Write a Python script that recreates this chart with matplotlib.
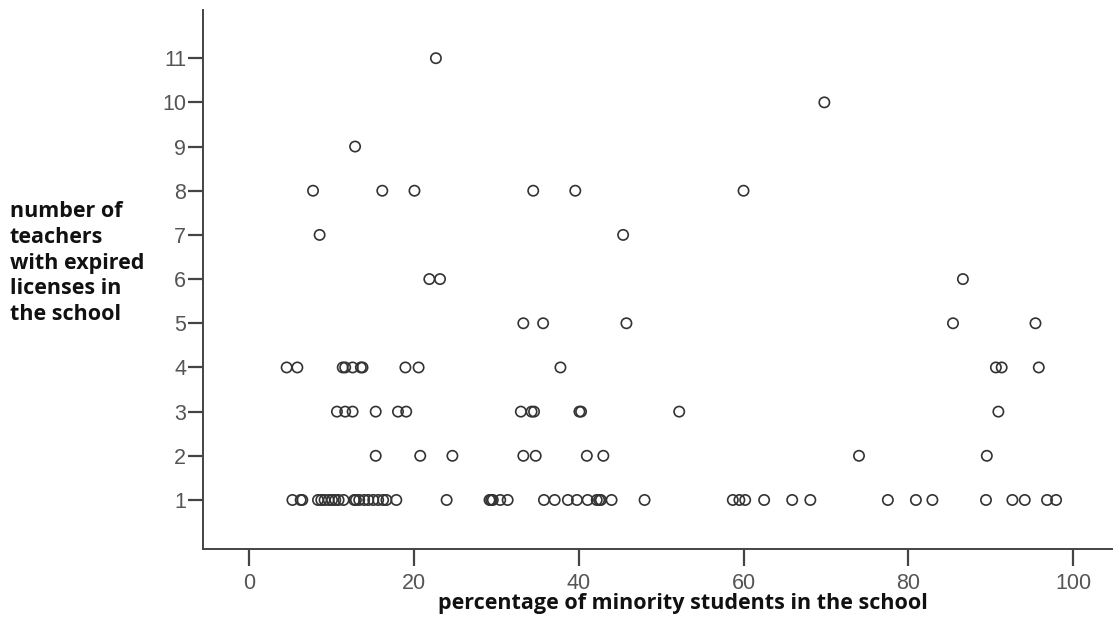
import numpy as np
import matplotlib.pyplot as plt

# percentage of minority students, grouped by number of teachers with expired licenses
pct_1 = [5.3, 6.3, 6.5, 8.4, 8.8, 9.2, 9.7, 10.1, 10.5, 10.9, 11.5, 12.8, 13.0, 13.4,
         14.0, 14.5, 15.1, 15.7, 16.3, 16.7, 17.9, 24.0, 29.2, 29.4, 29.6, 30.5, 31.4,
         35.8, 37.1, 38.7, 39.8, 41.1, 42.2, 42.5, 42.7, 44.0, 48.0, 58.7, 59.5, 60.2,
         62.5, 65.9, 68.1, 77.5, 80.9, 82.9, 89.4, 92.6, 94.1, 96.8, 97.9]
pct_2 = [15.4, 20.8, 24.7, 33.3, 34.8, 41.0, 43.0, 74.0, 89.5]
pct_3 = [10.7, 11.7, 12.6, 15.4, 18.1, 19.1, 33.0, 34.3, 34.6, 40.1, 40.3, 52.2, 90.9]
pct_4 = [4.6, 5.9, 11.4, 11.7, 12.6, 13.6, 13.8, 19.0, 20.6, 37.8, 90.6, 91.3, 95.8]
pct_5 = [33.3, 35.7, 45.8, 85.4, 95.4]
pct_6 = [21.9, 23.2, 86.6]
pct_7 = [8.6, 45.4]
pct_8 = [7.8, 16.2, 20.1, 34.5, 39.6, 60.0]
pct_9 = [12.9]
pct_10 = [69.8]
pct_11 = [22.7]

groups = [pct_1, pct_2, pct_3, pct_4, pct_5, pct_6, pct_7, pct_8, pct_9, pct_10, pct_11]
counts = [1, 2, 3, 4, 5, 6, 7, 8, 9, 10, 11]

x = np.concatenate([np.array(g) for g in groups])
y = np.concatenate([np.full(len(g), c) for g, c in zip(groups, counts)])

fig = plt.figure(figsize=(11.13, 6.35), dpi=100)
ax = fig.add_axes([0.1824, 0.1354, 0.8176, 0.8488])

ax.scatter(x, y, s=55, facecolors='none', edgecolors='#333333', linewidths=1.2)

ax.set_xlim(-5.54, 104.8)
ax.set_ylim(-0.11, 12.09)
ax.set_xticks([0, 20, 40, 60, 80, 100])
ax.set_yticks(counts)

for s in ['top', 'right']:
    ax.spines[s].set_visible(False)
for s in ['left', 'bottom']:
    ax.spines[s].set_color('#444444')
    ax.spines[s].set_linewidth(1.4)

ax.tick_params(axis='both', direction='out', length=12, width=1.6, color='#444444',
               labelcolor='#555555', labelsize=15.5, pad=3)
for lab in ax.get_xticklabels() + ax.get_yticklabels():
    lab.set_fontfamily('Liberation Sans')
ax.tick_params(axis='y', length=11, pad=1)
ax.tick_params(axis='x', pad=5)

fig.text(683/1113, 1 - 603/635, 'percentage of minority students in the school',
         ha='center', va='center', fontsize=15.5, fontweight='bold',
         family='Open Sans', color='#111111')
fig.text(10/1113, 1 - 263/635,
         'number of\nteachers\nwith expired\nlicenses in\nthe school',
         ha='left', va='center', fontsize=15.5, fontweight='bold',
         family='Open Sans', color='#111111', linespacing=1.3)

fig.savefig('out.png', dpi=100)
